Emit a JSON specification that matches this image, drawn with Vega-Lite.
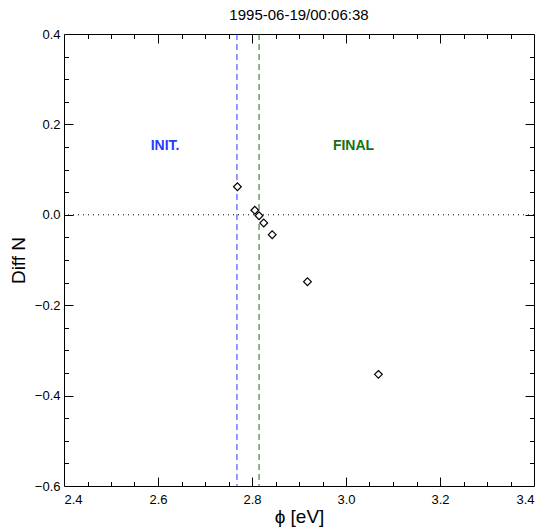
{
  "$schema": "https://vega.github.io/schema/vega-lite/v6.json",
  "width": 470,
  "height": 452,
  "autosize": {"type": "none"},
  "padding": {"left": 64, "top": 34, "right": 17, "bottom": 44},
  "title": {"text": "1995-06-19/00:06:38", "font": "Liberation Sans", "fontSize": 15, "fontWeight": "normal", "color": "#000", "offset": 5},
  "config": {
    "view": {"stroke": "#000", "strokeWidth": 1},
    "axis": {"grid": false, "domain": false, "ticks": false, "labelColor": "#000", "labelFont": "Liberation Sans", "labelFontSize": 13, "titleFont": "Liberation Sans", "titleFontSize": 19, "titleFontWeight": "normal", "titleColor": "#000"}
  },
  "datasets": {
    "points": [
      {"phi": 2.769, "diff": 0.062},
      {"phi": 2.806, "diff": 0.010},
      {"phi": 2.815, "diff": -0.002},
      {"phi": 2.825, "diff": -0.018},
      {"phi": 2.843, "diff": -0.044},
      {"phi": 2.918, "diff": -0.148},
      {"phi": 3.069, "diff": -0.353}
    ],
    "vlines": [
      {"phi": 2.768, "which": "INIT."},
      {"phi": 2.815, "which": "FINAL"}
    ],
    "labels": [
      {"phi": 2.615, "diff": 0.153, "which": "INIT."},
      {"phi": 3.016, "diff": 0.153, "which": "FINAL"}
    ],
    "hline": [{"diff": 0}]
  },
  "layer": [
    {
      "data": {"name": "hline"},
      "mark": {"type": "rule", "color": "#000", "strokeDash": [1, 4], "strokeWidth": 1},
      "encoding": {
        "y": {"field": "diff", "type": "quantitative", "scale": {"domain": [-0.6, 0.4], "nice": false, "zero": false},
          "axis": {"orient": "left", "values": [-0.6, -0.4, -0.2, 0, 0.2, 0.4], "format": ".1f", "labelPadding": 4, "title": "Diff N", "titlePadding": 6}}
      }
    },
    {
      "data": {"name": "vlines"},
      "mark": {"type": "rule", "strokeDash": [6, 4], "strokeWidth": 1},
      "encoding": {
        "x": {"field": "phi", "type": "quantitative", "scale": {"domain": [2.4, 3.4], "nice": false, "zero": false},
          "axis": {"orient": "bottom", "values": [2.4, 2.6, 2.8, 3.0, 3.2, 3.4], "format": ".1f", "labelPadding": 7, "title": "ϕ [eV]", "titlePadding": 1}},
        "color": {"field": "which", "type": "nominal", "scale": {"domain": ["INIT.", "FINAL"], "range": ["#1f3cff", "#137313"]}, "legend": null}
      }
    },
    {
      "data": {"name": "points"},
      "mark": {"type": "point", "shape": "diamond", "size": 60, "filled": false, "fill": "#fff", "fillOpacity": 1, "stroke": "#000", "strokeWidth": 1.2, "opacity": 1},
      "encoding": {
        "x": {"field": "phi", "type": "quantitative", "scale": {"domain": [2.4, 3.4], "nice": false, "zero": false},
          "axis": {"orient": "top", "values": [2.6, 2.8, 3.0, 3.2], "labels": false, "title": null, "grid": true, "gridColor": "#000", "gridOpacity": 1, "gridWidth": 1, "gridDash": [9, 434]}},
        "y": {"field": "diff", "type": "quantitative", "scale": {"domain": [-0.6, 0.4], "nice": false, "zero": false},
          "axis": {"orient": "right", "values": [-0.4, -0.2, 0, 0.2], "labels": false, "title": null, "grid": true, "gridColor": "#000", "gridOpacity": 1, "gridWidth": 1, "gridDash": [9, 452]}}
      }
    },
    {
      "data": {"name": "labels"},
      "mark": {"type": "text", "font": "Liberation Sans", "fontSize": 14, "fontWeight": "bold", "align": "center", "baseline": "middle"},
      "encoding": {
        "x": {"field": "phi", "type": "quantitative", "scale": {"domain": [2.4, 3.4], "nice": false, "zero": false},
          "axis": {"orient": "top", "values": [2.45, 2.5, 2.55, 2.65, 2.7, 2.75, 2.85, 2.9, 2.95, 3.05, 3.1, 3.15, 3.25, 3.3, 3.35], "labels": false, "title": null, "grid": true, "gridColor": "#000", "gridOpacity": 1, "gridWidth": 1, "gridDash": [4.5, 443]}},
        "y": {"field": "diff", "type": "quantitative", "scale": {"domain": [-0.6, 0.4], "nice": false, "zero": false},
          "axis": {"orient": "right", "values": [-0.55, -0.5, -0.45, -0.35, -0.3, -0.25, -0.15, -0.1, -0.05, 0.05, 0.1, 0.15, 0.25, 0.3, 0.35], "labels": false, "title": null, "grid": true, "gridColor": "#000", "gridOpacity": 1, "gridWidth": 1, "gridDash": [4.5, 461]}},
        "text": {"field": "which", "type": "nominal"},
        "color": {"field": "which", "type": "nominal", "scale": {"domain": ["INIT.", "FINAL"], "range": ["#1f3cff", "#137313"]}, "legend": null}
      }
    }
  ],
  "resolve": {"axis": {"x": "independent", "y": "independent"}}
}
